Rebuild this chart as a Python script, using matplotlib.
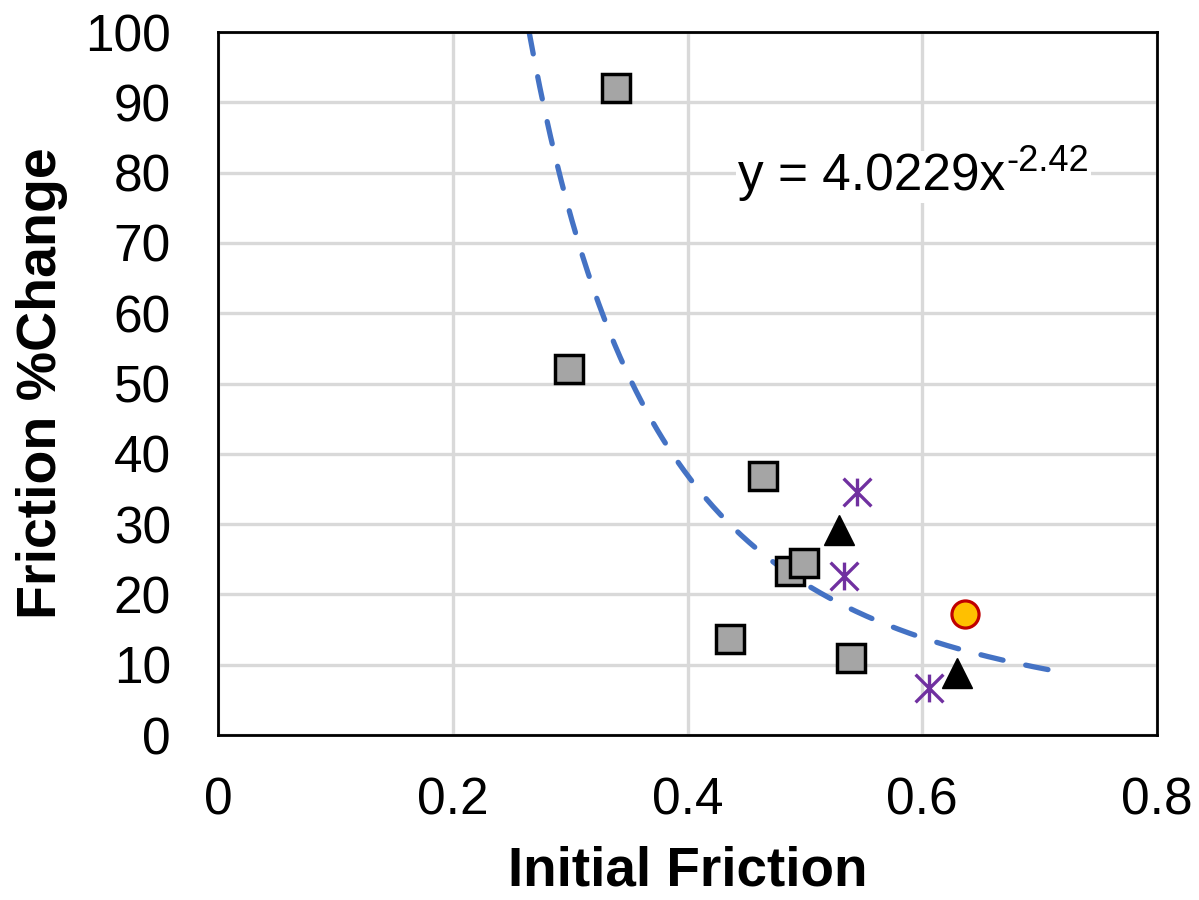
import numpy as np
import matplotlib.pyplot as plt
from matplotlib.path import Path

plt.rcParams['font.family'] = ['Liberation Sans', 'DejaVu Sans']

# data
sq_x = [0.339, 0.299, 0.464, 0.487, 0.499, 0.436, 0.539]
sq_y = [92.0, 52.1, 36.8, 23.3, 24.5, 13.7, 11.0]
tri_x = [0.529, 0.630]
tri_y = [29.2, 8.8]
ast_x = [0.544, 0.533, 0.606]
ast_y = [34.6, 22.6, 6.7]
circ_x = [0.636]
circ_y = [17.2]

# power trendline y = a * x^b
fit_a = 4.0229
fit_b = -2.42
fit_range = (0.265, 0.72)

# excel-like asterisk: vertical bar plus an X
star = Path([(0, 1), (0, -1), (-1, 1), (1, -1), (-1, -1), (1, 1)],
            [Path.MOVETO, Path.LINETO] * 3)

fig = plt.figure(figsize=(11.99, 9), dpi=100)
ax = fig.add_axes([0.1818, 0.1833, 0.7832, 0.7811])

xs = np.linspace(fit_range[0], fit_range[1], 300)
ax.plot(xs, fit_a * xs ** fit_b, color='#4472C4', lw=3.8, ls=(0, (4.3, 4.4)),
        dash_capstyle='round', zorder=2)

ax.plot(sq_x, sq_y, 's', ms=19.5, mfc='#A5A5A5', mec='black', mew=2.5, zorder=3)
ax.plot(tri_x, tri_y, '^', ms=22, mfc='black', mec='black', zorder=3)
ax.plot(ast_x, ast_y, marker=star, ls='none', ms=20, mec='#7030A0', mew=2.4, zorder=3)
ax.plot(circ_x, circ_y, 'o', ms=19.5, mfc='#FFC000', mec='#C00000', mew=2.3, zorder=3)

# trendline equation, superscript as its own text so the hyphen stays a hyphen
eq = ax.text(0.443, 77.5, 'y = 4.0229x', fontsize=37, va='baseline',
             bbox=dict(facecolor='white', edgecolor='none', pad=1), zorder=4)
ax.annotate('%.2f' % fit_b, xy=(1, 1), xycoords=eq, xytext=(1, 6),
            textcoords='offset points', fontsize=26, va='top', ha='left',
            bbox=dict(facecolor='white', edgecolor='none', pad=1), zorder=4)

ax.set_xlim(0, 0.8)
ax.set_ylim(0, 100)
ax.set_xticks([0, 0.2, 0.4, 0.6, 0.8])
ax.set_xticklabels(['0', '0.2', '0.4', '0.6', '0.8'])
ax.set_yticks(range(0, 101, 10))
ax.tick_params(length=0, labelsize=37)
ax.tick_params(axis='x', pad=30)
ax.tick_params(axis='y', pad=34)
ax.grid(True, color='#D9D9D9', lw=2.4, zorder=0)
ax.set_axisbelow(True)
for s in ax.spines.values():
    s.set_linewidth(2)
    s.set_color('black')

ax.set_xlabel('Initial Friction', fontsize=39.5, fontweight='bold', labelpad=14)
ax.set_ylabel('Friction %Change', fontsize=40, fontweight='bold', labelpad=12)

fig.savefig('out.png', dpi=100)
